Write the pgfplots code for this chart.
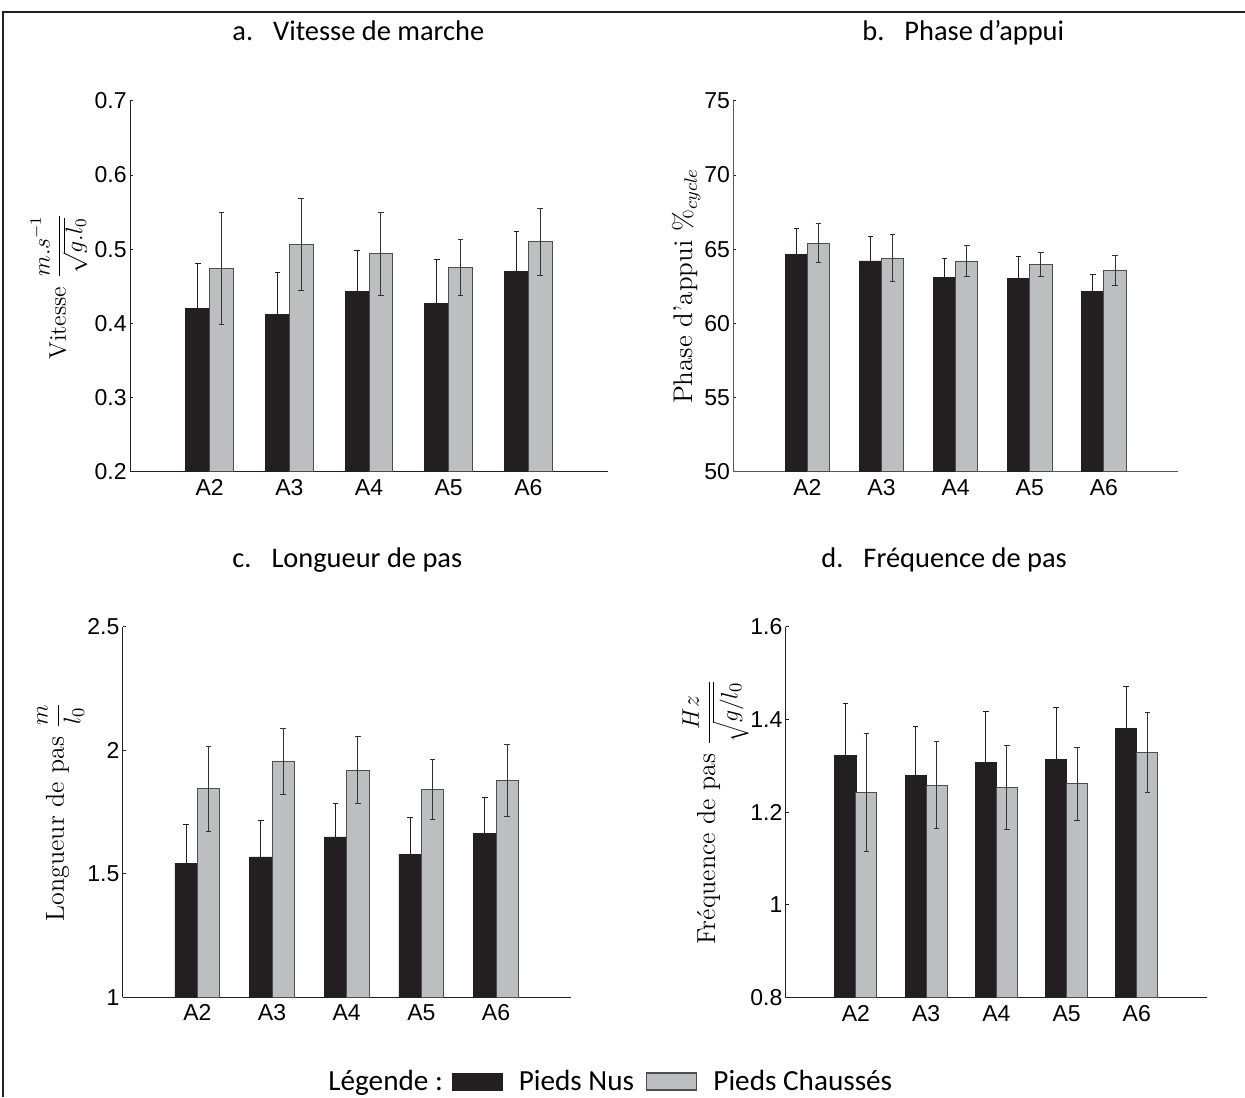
\documentclass[border=0pt]{standalone}
\usepackage{pgfplots}
\pgfplotsset{compat=1.18}
\usepackage{fontspec}
\newfontfamily\calib{Carlito}
\newfontfamily\arial{Liberation Sans}
\definecolor{barblack}{HTML}{231F20}
\definecolor{bargray}{HTML}{BCBEC0}
\definecolor{edgegray}{HTML}{4D4D4F}
\pgfplotsset{
  panel/.style={
    scale only axis,
    xmin=0, xmax=6,
    axis x line*=bottom, axis y line*=left,
    axis line style={barblack, line width=0.5pt},
    xtick={1,2,3,4,5}, xticklabels={A2,A3,A4,A5,A6},
    ticklabel style={font=\arial\fontsize{11.5}{13}\selectfont},
    xticklabel style={text height=8.3pt, text depth=0pt},
    yticklabel style={inner xsep=1.5pt},
    /pgf/number format/assume math mode=true,
    tick align=inside, major tick length=1.5pt,
    tick style={barblack, line width=0.4pt},
    xtick style={draw=none},
    ylabel style={at={(axis description cs:0,0.5)}, anchor=center},
  },
  nus/.style={ybar, bar width=0.3, bar shift=0pt, fill=barblack, draw=barblack, line width=0.4pt,
    legend image code/.code={\draw[fill=barblack, draw=barblack, line width=0.4pt] (0pt,-4pt) rectangle (25pt,4.6pt);},
    error bars/.cd, y dir=both, y explicit,
    error bar style={barblack, line width=0.5pt},
    error mark options={rotate=90, barblack, mark size=1.4pt, line width=0.5pt}},
  chau/.style={ybar, bar width=0.3, bar shift=0pt, fill=bargray, draw=edgegray, line width=0.5pt,
    legend image code/.code={\draw[fill=bargray, draw=edgegray, line width=0.7pt] (0pt,-4pt) rectangle (25pt,4.6pt);},
    error bars/.cd, y dir=both, y explicit,
    error bar style={black!80, line width=0.5pt},
    error mark options={rotate=90, black!80, mark size=1.4pt, line width=0.5pt}},
}
\begin{document}
\begin{tikzpicture}
\useasboundingbox (0,0) rectangle (622.5pt,-548.5pt);
\draw[line width=1pt, barblack] (1.5pt,-548.5pt) -- (1.5pt,-6pt) -- (622.5pt,-6pt);

% titles
\node[anchor=base west, inner sep=0pt, font=\calib\fontsize{14.2}{16}\selectfont] at (116pt,-20.5pt) {a.\hspace{10pt}Vitesse de marche};
\node[anchor=base west, inner sep=0pt, font=\calib\fontsize{14.2}{16}\selectfont] at (431pt,-20.5pt) {b.\hspace{10pt}Phase d’appui};
\node[anchor=base west, inner sep=0pt, font=\calib\fontsize{14.2}{16}\selectfont] at (116pt,-283.5pt) {c.\hspace{10pt}Longueur de pas};
\node[anchor=base west, inner sep=0pt, font=\calib\fontsize{14.2}{16}\selectfont] at (410.5pt,-283.5pt) {d.\hspace{10pt}Fréquence de pas};
\node[anchor=base west, inner sep=0pt, font=\calib\fontsize{14.6}{16}\selectfont] at (164pt,-545pt) {Légende :};

% panel a
\begin{axis}[panel, at={(65pt,-235.85pt)}, anchor=south west,
  width=239pt, height=185.5pt,
  ymin=0.2, ymax=0.7, ytick={0.2,0.3,0.4,0.5,0.6,0.7},
  ylabel={Vitesse $\displaystyle\frac{m.s^{-1}}{\sqrt{g.l_0}}$},
  ylabel style={yshift=35.5pt, font=\fontsize{12}{14}\selectfont}]
\addplot[nus] coordinates {
 (0.85,0.420) +- (0,0.061)
 (1.85,0.412) +- (0,0.056)
 (2.85,0.443) +- (0,0.055)
 (3.85,0.427) +- (0,0.059)
 (4.85,0.470) +- (0,0.054)};
\addplot[chau] coordinates {
 (1.15,0.474) +- (0,0.076)
 (2.15,0.506) +- (0,0.062)
 (3.15,0.494) +- (0,0.056)
 (4.15,0.475) +- (0,0.038)
 (5.15,0.510) +- (0,0.045)};
\end{axis}

% panel b
\begin{axis}[panel, at={(366.65pt,-235.85pt)}, anchor=south west,
  width=222.35pt, height=185.5pt,
  axis line style={black!65, line width=0.5pt},
  ymin=50, ymax=75, ytick={50,55,60,65,70,75},
  ylabel={Phase d'appui $\%_{cycle}$},
  ylabel style={yshift=23.5pt, font=\fontsize{13.5}{15}\selectfont}]
\addplot[nus] coordinates {
 (0.85,64.64) +- (0,1.73)
 (1.85,64.20) +- (0,1.68)
 (2.85,63.10) +- (0,1.30)
 (3.85,63.03) +- (0,1.44)
 (4.85,62.17) +- (0,1.12)};
\addplot[chau] coordinates {
 (1.15,65.39) +- (0,1.31)
 (2.15,64.38) +- (0,1.58)
 (3.15,64.17) +- (0,1.04)
 (4.15,63.97) +- (0,0.79)
 (5.15,63.57) +- (0,1.03)};
\end{axis}

% panel c
\begin{axis}[panel, at={(61.35pt,-498.65pt)}, anchor=south west,
  width=224pt, height=185.3pt,
  ymin=1, ymax=2.5, ytick={1,1.5,2,2.5},
  ylabel={Longueur de pas $\displaystyle\frac{m}{l_0}$},
  ylabel style={yshift=31pt, font=\fontsize{13}{15}\selectfont},
  legend style={at={(axis description cs:0.735,-0.229)}, anchor=west,
    draw=none, fill=none, inner sep=0pt, outer sep=0pt,
    font=\calib\fontsize{14.6}{16}\selectfont,
    nodes={inner sep=0pt},
    /tikz/every odd column/.append style={column sep=8pt},
    /tikz/every even column/.append style={column sep=6pt}},
  legend columns=-1]
\addplot[nus] coordinates {
 (0.85,1.542) +- (0,0.157)
 (1.85,1.568) +- (0,0.148)
 (2.85,1.649) +- (0,0.136)
 (3.85,1.579) +- (0,0.147)
 (4.85,1.662) +- (0,0.146)};
\addlegendentry{Pieds Nus}
\addplot[chau] coordinates {
 (1.15,1.844) +- (0,0.171)
 (2.15,1.955) +- (0,0.134)
 (3.15,1.919) +- (0,0.135)
 (4.15,1.842) +- (0,0.121)
 (5.15,1.878) +- (0,0.146)};
\addlegendentry{Pieds Chaussés}
\end{axis}

% panel d
\begin{axis}[panel, at={(392.85pt,-498.75pt)}, anchor=south west,
  width=210.65pt, height=185.5pt,
  ymin=0.8, ymax=1.6, ytick={0.8,1,1.2,1.4,1.6},
  ylabel={Fréquence de pas $\displaystyle\frac{Hz}{\sqrt{g/l_0}}$},
  ylabel style={yshift=35pt, font=\fontsize{13}{15}\selectfont}]
\addplot[nus] coordinates {
 (0.85,1.322) +- (0,0.113)
 (1.85,1.278) +- (0,0.106)
 (2.85,1.307) +- (0,0.109)
 (3.85,1.314) +- (0,0.111)
 (4.85,1.380) +- (0,0.091)};
\addplot[chau] coordinates {
 (1.15,1.242) +- (0,0.128)
 (2.15,1.258) +- (0,0.094)
 (3.15,1.253) +- (0,0.091)
 (4.15,1.261) +- (0,0.079)
 (5.15,1.328) +- (0,0.086)};
\end{axis}
\end{tikzpicture}
\end{document}
